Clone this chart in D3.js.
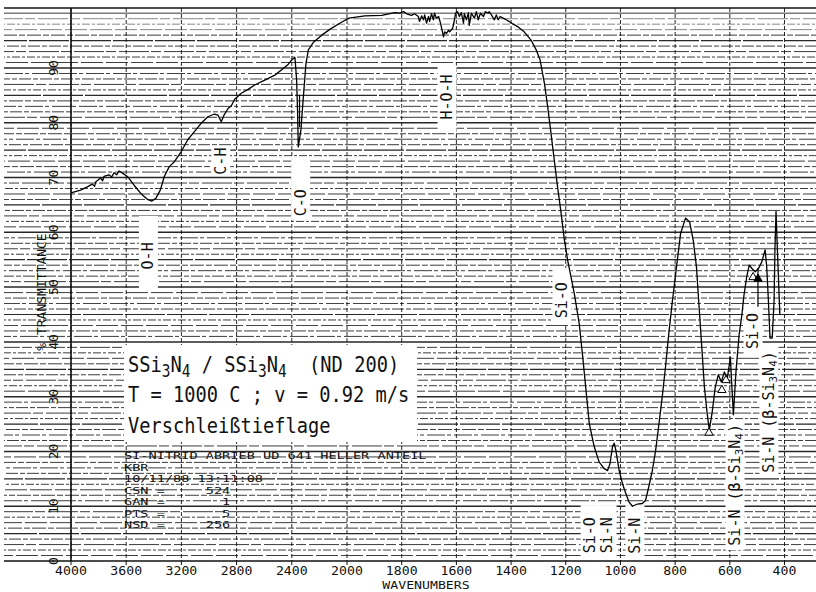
<!DOCTYPE html>
<html><head><meta charset="utf-8">
<script src="https://cdn.jsdelivr.net/npm/d3@7"></script>
<style>body{margin:0;background:#fff}svg{display:block}text{white-space:pre}</style>
</head><body><svg id="c" width="816" height="592"></svg>
<script>
// ---- data ----
const wavenumbers = [4000,3931,3882,3846,3829,3822,3785,3771,3761,3725,3705,3688,3669,3652,3627,3591,3543,3494,3445,3416,3385,3353,3324,3288,3251,3202,3154,3106,3057,3008,2960,2935,2911,2891,2862,2838,2814,2766,2717,2669,2596,2523,2462,2425,2396,2377,2365,2358,2353,2334,2316,2297,2280,2243,2183,2122,2037,1993,1935,1873,1847,1826,1807,1793,1782,1764,1753,1739,1735,1727,1720,1716,1709,1702,1698,1691,1684,1680,1673,1665,1658,1647,1643,1636,1629,1625,1614,1607,1603,1596,1589,1582,1574,1571,1563,1556,1553,1545,1534,1527,1520,1512,1501,1494,1483,1480,1472,1461,1454,1447,1440,1429,1418,1407,1392,1374,1352,1327,1308,1294,1278,1266,1254,1242,1230,1217,1205,1193,1181,1169,1151,1138,1126,1114,1096,1078,1060,1047,1038,1029,1023,1017,1005,993,981,969,956,938,920,908,896,883,871,859,847,835,823,811,792,780,762,747,734,722,714,701,693,683,675,665,653,642,631,620,609,598,587,577,566,556,548,538,529,519,507,495,483,471,465,459,453,445,438,435,431,426,419,417];
const transmittance = [67.2,67.7,68.3,68.8,68.4,69.2,69.9,69.4,70.2,70.5,70.1,70.9,70.5,71.2,70.8,70.2,68.6,67.1,66.0,65.7,66.2,67.7,70.2,72.0,72.9,74.7,76.9,78.4,79.9,81.1,81.6,81.4,80.2,81.4,82.6,83.1,84.3,85.4,86.1,86.9,87.8,88.7,89.9,90.7,91.6,91.9,87.8,81.8,75.6,78.7,84.8,90.9,93.3,94.7,96.0,97.1,98.4,99.1,99.5,99.6,99.9,100.1,100.0,100.3,99.9,99.6,99.9,99.4,98.5,99.5,98.8,99.7,98.2,99.4,98.5,99.9,98.8,100.0,99.1,99.4,98.2,95.7,96.6,96.3,96.9,96.6,97.2,98.8,100.0,100.3,99.4,100.1,98.2,99.9,98.8,100.1,97.8,100.0,99.1,100.3,98.8,100.0,99.4,100.3,100.0,100.3,99.7,98.8,99.7,98.8,99.4,99.1,98.8,98.5,98.0,97.5,96.6,95.1,93.3,91.5,87.2,82.9,78.1,73.2,68.3,63.5,58.6,54.9,51.9,48.9,43.4,37.3,31.2,25.1,20.9,18.1,16.9,16.5,17.8,20.9,21.5,20.3,16.6,14.2,12.4,10.8,10.0,10.4,10.5,11.1,13.6,16.6,20.3,25.1,30.0,35.5,41.6,47.0,54.9,59.8,62.6,61.9,58.6,53.7,47.6,37.9,31.8,27.0,23.9,27.0,31.8,34.0,32.7,34.5,33.4,37.2,26.7,34.9,41.3,44.9,48.6,51.9,54.0,53.4,52.8,53.4,54.6,56.8,53.7,47.6,40.7,40.7,47.6,56.8,63.8,56.8,47.6,44.9];
const xTicks = [4000,3600,3200,2800,2400,2000,1800,1600,1400,1200,1000,800,600,400];
const yTicks = [0,10,20,30,40,50,60,70,80,90];
const titleLines = ["SSi_3N_4 / SSi_3N_4  (ND 200)","T = 1000 C ; v = 0.92 m/s","Verschleißtieflage"];
const infoLines = ["SI-NITRID ABRIEB UD 641 HELLER ANTEIL","KBR","10/11/88 13:11:08","CSN =     524","GAN =       1","PTS =       5","NSD =     256"];
// band labels: text, wavenumber, %T (centre), box %T range
const bandText = ["O-H","C-H","C-O","H-O-H","Si-O","Si-O","Si-N","Si-N","Si-N (β-Si_3N_4)","Si-O","Si-N (β-Si_3N_4)"];
const bandW = [3439,2915,2336,1634,1214,1111,1049,947,581,515,457];
const bandT = [55.7,73.0,65.4,84.7,47.6,4.7,4.7,4.6,13.9,42.0,27.2];
const bandBoxLo = [49.5,70.3,62.2,78.3,43.1,0.7,0.7,0.7,2.0,37.2,15.2];
const bandBoxHi = [63.0,75.8,73.7,90.5,53.5,10.2,10.2,10.2,25.4,46.5,39.8];
const markW = [676,629,614,515,497];
const markT = [23.4,31.2,33.0,51.8,51.5];
const markFilled = [false,false,false,false,true];
const leaderW = [2344,497];
const leaderT0 = [85.1,53.5];
const leaderT1 = [79.2,46.4];

// ---- scales ----
const svg = d3.select("#c");
const x = d3.scaleLinear().domain([4000,2000,400]).range([71,347,784.5]);
const y = d3.scaleLinear().domain([0,90]).range([561,68]);
const mono = "'DejaVu Sans Mono', monospace";
const ink = "#111";

// ---- grid (chart paper) ----
const dashCycle = ["14,2,6,2","22,3","8,2,3,2","30,2,10,3","5,2,12,2","18,2,4,3"];
const g = svg.append("g");
d3.range(1,101).forEach(i=>{
  const yy = y(i);
  const major = i%10===0, mid = i%5===0;
  g.append("line").attr("x1",4).attr("x2",816).attr("y1",yy).attr("y2",yy)
    .attr("stroke",ink)
    .attr("stroke-width",major?1.5:(mid?1.2:0.9))
    .attr("stroke-dasharray",major?null:(mid?"40,2":dashCycle[i%dashCycle.length]))
    .attr("stroke-dashoffset",(i*13)%29)
    .attr("opacity",i>96?0.55:0.9);
});
xTicks.forEach(t=>{
  g.append("line").attr("x1",x(t)).attr("x2",x(t)).attr("y1",8).attr("y2",561)
    .attr("stroke",ink).attr("stroke-width",0.9).attr("stroke-dasharray","4,2");
  g.append("line").attr("x1",x(t)).attr("x2",x(t)).attr("y1",561).attr("y2",565)
    .attr("stroke",ink).attr("stroke-width",1);
});
// frame
g.append("line").attr("x1",4).attr("x2",816).attr("y1",8).attr("y2",8).attr("stroke",ink).attr("stroke-width",1.5);
g.append("line").attr("x1",4).attr("x2",816).attr("y1",y(0)).attr("y2",y(0)).attr("stroke",ink).attr("stroke-width",1.6);
g.append("line").attr("x1",x(4000)).attr("x2",x(4000)).attr("y1",8).attr("y2",y(0)).attr("stroke",ink).attr("stroke-width",1.6);

// ---- axis labels ----
xTicks.forEach(t=>{
  svg.append("text").attr("transform",`translate(${x(t)},575) scale(1.1,1)`).attr("text-anchor","middle")
    .attr("font-family",mono).attr("font-size",12).attr("fill",ink).text(t);
});
svg.append("text").attr("transform","translate(426,589) scale(1.2,1)").attr("text-anchor","middle")
  .attr("font-family",mono).attr("font-size",11).attr("fill",ink).text("WAVENUMBERS");
yTicks.forEach(t=>{
  svg.append("text").attr("transform",`translate(53,${y(t)}) rotate(-90)`)
    .attr("text-anchor","middle").attr("dominant-baseline","central")
    .attr("font-family",mono).attr("font-size",13).attr("fill",ink).text(t);
});
svg.append("text").attr("transform",`translate(41,292) rotate(-90)`)
  .attr("text-anchor","middle").attr("dominant-baseline","central")
  .attr("font-family",mono).attr("font-size",13).attr("fill",ink).text("% TRANSMITTANCE");

// ---- band label boxes ----
bandText.forEach((s,i)=>{
  const cx = x(bandW[i]);
  svg.append("rect").attr("x",cx-9.5).attr("width",19)
    .attr("y",y(bandBoxHi[i])).attr("height",y(bandBoxLo[i])-y(bandBoxHi[i])).attr("fill","#fff");
});
// title panel
svg.append("rect").attr("x",124).attr("y",345).attr("width",293).attr("height",97).attr("fill","#fff");

// ---- spectrum ----
const pts = wavenumbers.map((w,i)=>[w,transmittance[i]]);
svg.append("path").datum(pts)
  .attr("d",d3.line().x(d=>x(d[0])).y(d=>y(d[1])))
  .attr("fill","none").attr("stroke","#000").attr("stroke-width",1.3).attr("stroke-linejoin","round");
leaderW.forEach((w,i)=>{
  svg.append("line").attr("x1",x(w)).attr("x2",x(w)).attr("y1",y(leaderT0[i])).attr("y2",y(leaderT1[i]))
    .attr("stroke","#000").attr("stroke-width",1.2);
});
markW.forEach((w,i)=>{
  svg.append("path").attr("d",d3.symbol(d3.symbolTriangle,30)())
    .attr("transform",`translate(${x(w)},${y(markT[i])})`)
    .attr("fill",markFilled[i]?"#000":"#fff").attr("stroke","#000").attr("stroke-width",1);
});

// ---- rich text with subscripts (_d) ----
function addRich(sel, s, big, small, shift){
  let pending = 0;
  s.split(/(_\d)/).forEach(p=>{
    if(!p) return;
    if(p[0]==="_"){
      sel.append("tspan").attr("font-size",small).attr("dy",shift+pending).text(p.slice(1));
      pending = -shift;
    } else {
      const ts = sel.append("tspan").attr("font-size",big).text(p);
      if(pending) ts.attr("dy",pending);
      pending = 0;
    }
  });
}
bandText.forEach((s,i)=>{
  const t = svg.append("text").attr("transform",`translate(${x(bandW[i])},${y(bandT[i])}) rotate(-90)`)
    .attr("text-anchor","middle").attr("dominant-baseline","central")
    .attr("font-family",mono).attr("font-size",15).attr("fill",ink);
  addRich(t,s,15,11,4);
});

// ---- title panel text ----
const baseY = [372,402,433];
titleLines.forEach((s,i)=>{
  const t = svg.append("text").attr("transform",`translate(128,${baseY[i]}) scale(0.85,1)`)
    .attr("font-family",mono).attr("font-size",22).attr("fill",ink);
  addRich(t,s,22,17,5);
});
// ---- info block ----
infoLines.forEach((s,i)=>{
  svg.append("text").attr("transform",`translate(124,${459+i*11.5}) scale(1.43,1)`)
    .attr("font-family",mono).attr("font-size",9.5).attr("fill",ink).text(s);
});
</script></body></html>
